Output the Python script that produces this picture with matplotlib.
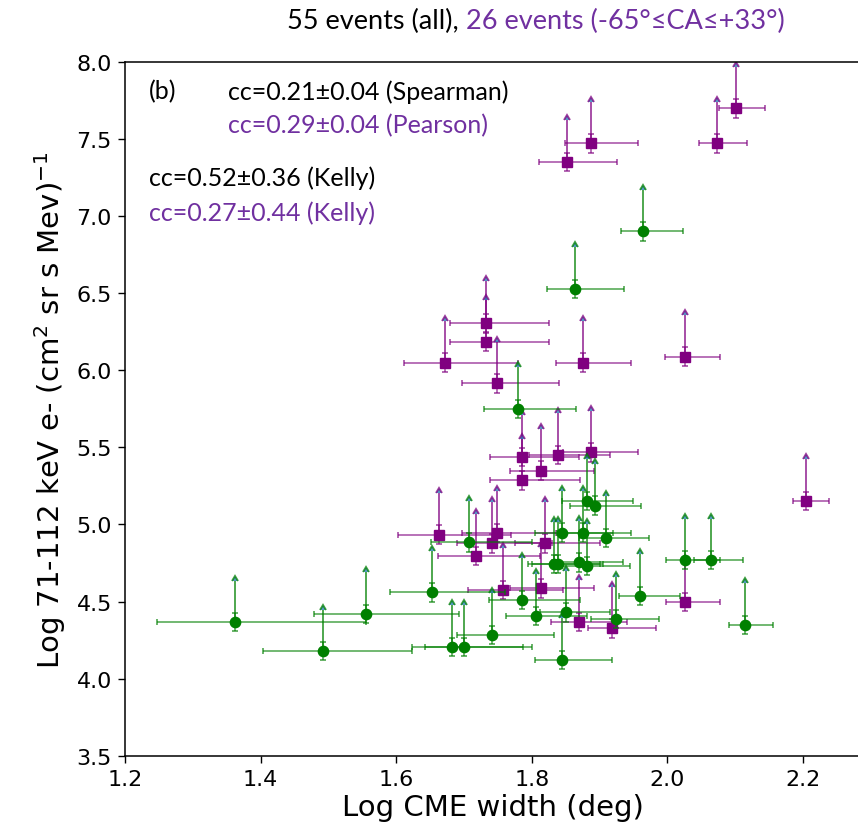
import numpy as np
import matplotlib
matplotlib.use("Agg")
import matplotlib.pyplot as plt

# ---- data: events outside the CA range (green circles) ----
g_x = [1.964, 1.864, 1.779, 1.881, 1.893, 1.845, 1.875, 1.909, 1.708, 1.833,
       1.839, 1.870, 1.882, 2.026, 2.065, 1.960, 1.653, 1.786, 1.556, 1.362,
       1.806, 1.851, 1.924, 2.115, 1.741, 1.682, 1.700, 1.492, 1.845]
g_y = [6.900, 6.526, 5.748, 5.151, 5.121, 4.946, 4.946, 4.913, 4.883, 4.743,
       4.743, 4.754, 4.731, 4.768, 4.768, 4.537, 4.559, 4.511, 4.420, 4.366,
       4.407, 4.429, 4.386, 4.347, 4.282, 4.206, 4.206, 4.178, 4.120]
g_xlo = [1.932, 1.823, 1.730, 1.845, 1.856, 1.805, 1.837, 1.870, 1.652, 1.795,
         1.800, 1.830, 1.845, 1.998, 2.040, 1.928, 1.591, 1.737, 1.479, 1.247,
         1.762, 1.812, 1.888, 2.091, 1.689, 1.623, 1.643, 1.404, 1.805]
g_xhi = [2.023, 1.936, 1.865, 1.950, 1.961, 1.920, 1.946, 1.973, 1.800, 1.900,
         1.905, 1.935, 1.945, 2.077, 2.111, 2.018, 1.760, 1.871, 1.692, 1.556,
         1.881, 1.915, 1.987, 2.156, 1.833, 1.787, 1.800, 1.623, 1.919]

# ---- data: events with -65 <= CA <= +33 deg (purple squares) ----
p_x = [2.101, 2.073, 1.887, 1.852, 1.733, 1.733, 1.672, 1.875, 2.026, 1.749,
       1.786, 1.839, 1.887, 1.813, 1.786, 2.205, 1.663, 1.748, 1.741, 1.819,
       1.717, 1.757, 1.813, 2.026, 1.870, 1.919]
p_y = [7.698, 7.471, 7.471, 7.350, 6.307, 6.182, 6.048, 6.048, 6.087, 5.914,
       5.436, 5.451, 5.467, 5.348, 5.285, 5.151, 4.933, 4.944, 4.877, 4.877,
       4.796, 4.574, 4.585, 4.496, 4.368, 4.326]
p_xlo = [2.076, 2.047, 1.849, 1.811, 1.680, 1.680, 1.612, 1.836, 1.997, 1.697,
         1.738, 1.796, 1.846, 1.768, 1.738, 2.186, 1.602, 1.697, 1.689, 1.775,
         1.662, 1.706, 1.768, 1.998, 1.829, 1.883]
p_xhi = [2.144, 2.118, 1.956, 1.926, 1.826, 1.826, 1.779, 1.946, 2.077, 1.840,
         1.869, 1.915, 1.956, 1.892, 1.871, 2.239, 1.770, 1.836, 1.830, 1.900,
         1.812, 1.846, 1.892, 2.077, 1.940, 1.983]

y_err_small = 0.06   # symmetric flux uncertainty
y_limit_arrow = 0.27  # length of lower-limit arrow

x_ticks = [1.2, 1.4, 1.6, 1.8, 2.0, 2.2]
y_ticks = [3.5, 4.0, 4.5, 5.0, 5.5, 6.0, 6.5, 7.0, 7.5, 8.0]

GREEN = "#008000"
PURPLE = "#800080"
TXT_PURPLE = "#7030A0"

fig = plt.figure(figsize=(8.58, 8.37), dpi=100)
ax = fig.add_axes([0.1457, 0.0959, 0.8573, 0.8292])


def draw(x, y, xlo, xhi, color, marker, ms, z):
    x = np.asarray(x); y = np.asarray(y)
    xe = [x - np.asarray(xlo), np.asarray(xhi) - x]
    ax.errorbar(x, y, xerr=xe, yerr=y_err_small, fmt='none', ecolor=color,
                elinewidth=1.3, capsize=2.4, capthick=1.4, alpha=0.6, zorder=z)
    up = np.full_like(y, y_limit_arrow)
    ax.errorbar(x, y, yerr=[np.zeros_like(y), up], lolims=True, fmt='none',
                ecolor=color, elinewidth=1.3, capsize=2.4, capthick=1.4,
                alpha=0.75, zorder=z)
    ax.plot(x, y, linestyle='none', marker=marker, ms=ms, color=color,
            mec=color, zorder=z + 0.5)


draw(p_x, p_y, p_xlo, p_xhi, PURPLE, 's', 7.0, 2)
draw(g_x, g_y, g_xlo, g_xhi, GREEN, 'o', 7.4, 3)

ax.set_xlim(1.2, 2.285)
ax.set_ylim(3.5, 8.0)
ax.set_xticks(x_ticks)
ax.set_yticks(y_ticks)
ax.set_xticklabels([f"{t:.1f}" for t in x_ticks])
ax.set_yticklabels([f"{t:.1f}" for t in y_ticks])
ax.tick_params(labelsize=16, length=5, width=1, pad=4.5)
for s in ax.spines.values():
    s.set_linewidth(1.1)

ax.set_xlabel("Log CME width (deg)", fontsize=21, labelpad=3)
ax.set_ylabel(r"Log 71-112 keV e- (cm$^2$ sr s Mev)$^{-1}$", fontsize=21,
              labelpad=6)

tfont = dict(family=["Lato", "DejaVu Sans"], fontsize=18)


def px(xp, yp):
    return xp / 858.0, 1 - yp / 837.0


fig.text(*px(149, 92), "(b)", va='center', ha='left', color='black', **tfont)
fig.text(*px(228, 92), "cc=0.21±0.04 (Spearman)", va='center', ha='left',
         color='black', **tfont)
fig.text(*px(228, 126), "cc=0.29±0.04 (Pearson)", va='center', ha='left',
         color=TXT_PURPLE, **tfont)
fig.text(*px(149, 178), "cc=0.52±0.36 (Kelly)", va='center', ha='left',
         color='black', **tfont)
fig.text(*px(149, 213), "cc=0.27±0.44 (Kelly)", va='center', ha='left',
         color=TXT_PURPLE, **tfont)

tfont_title = dict(family=["Lato", "DejaVu Sans"], fontsize=19.5)
t1 = fig.text(*px(287, 21), "55 events (all), ", va='center', ha='left',
              color='black', **tfont_title)
fig.canvas.draw()
bb = t1.get_window_extent()
fig.text(bb.x1 / fig.bbox.width, 1 - 21 / 837.0, "26 events (-65°≤CA≤+33°)",
         va='center', ha='left', color=TXT_PURPLE, **tfont_title)

fig.savefig("out.png", dpi=100)
